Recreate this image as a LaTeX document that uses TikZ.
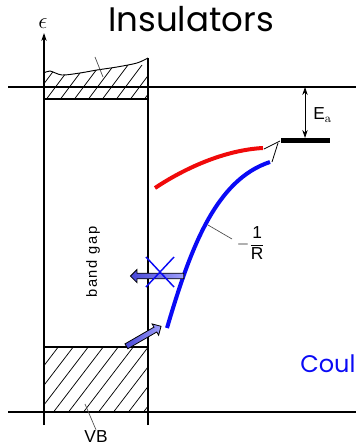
\documentclass[tikz,border=0pt]{standalone}
\usepackage{fontspec}
\setsansfont{Liberation Sans}
\newfontfamily\comicfont{Poppins}
\newfontfamily\widesans[LetterSpace=12]{Liberation Sans}
\usetikzlibrary{arrows.meta,shapes.arrows}
\definecolor{gapRed}{RGB}{240,10,10}
\definecolor{gapBlue}{RGB}{10,10,245}
\definecolor{arrowDark}{RGB}{70,70,215}
\definecolor{arrowLight}{RGB}{160,160,250}

\begin{document}
\begin{tikzpicture}[
  x=0.75pt,y=-0.75pt,
  frame/.style={line width=0.9pt},
  hatchline/.style={line width=0.55pt},
  leader/.style={line width=0.5pt,black!70},
  lbl/.style={font=\sffamily\fontsize{13}{13}\selectfont,inner sep=0pt},
  curve/.style={line width=3pt},
  fatarrow/.style={
    single arrow,
    draw=black,
    line width=0.6pt,
    left color=arrowDark,
    right color=arrowLight,
    inner sep=1.8pt,
    single arrow head extend=2.8pt
  },
  tip/.style={-{Stealth[length=6pt,width=4pt]}}
]
  \useasboundingbox (0,0) rectangle (356,445);

  % energy axis and band edges
  \draw[frame] (8,87) -- (356,87);
  \draw[frame] (8,412) -- (356,412);
  \draw[frame,tip] (44,425) -- (44,33);
  \draw[frame] (148,425) -- (148,58);
  \node[font=\fontsize{16}{16}\selectfont,anchor=base] (eps) at (43,29) {$\epsilon$};

  % conduction band (hatched)
  \begin{scope}
    \clip plot[smooth] coordinates {(44,73) (50,71) (62,75) (80,73) (97,70) (117,67) (137,63) (148,58)}
      -- (148,99) -- (44,99) -- cycle;
    \foreach \s in {14,28,...,154}
      \draw[hatchline] (\s,105) -- ++(30,-40);
  \end{scope}
  \draw[line width=0.7pt] plot[smooth] coordinates {(44,73) (50,71) (62,75) (80,73) (97,70) (117,67) (137,63) (148,58)};
  \draw[frame] (44,99) -- (148,99);
  \draw[leader] (95,57) -- (103,77);

  % valence band (hatched)
  \begin{scope}
    \clip (44,347) rectangle (148,412);
    \foreach \s in {-8,7,...,158}
      \draw[hatchline] (\s,414) -- ++(52,-68);
  \end{scope}
  \draw[frame] (44,347) -- (148,347);
  \node[lbl,anchor=base] (vb) at (96,442) {VB};
  \draw[leader] (85,404) -- (vb.north);

  \node[font=\widesans\fontsize{11}{11}\selectfont,rotate=90] (gap) at (93,262) {band gap};

  % acceptor level
  \coordinate (cbEdge) at (305,87);
  \coordinate (level) at (305,138);
  \draw[line width=3.5pt] (281,140.5) -- (330,140.5);
  \draw[line width=0.6pt,{Stealth[length=6pt,width=4pt]}-{Stealth[length=6pt,width=4pt]}] (cbEdge) -- (level);
  \node[lbl,anchor=base west] (ea) at (313,120) {E$_\mathrm{a}$};

  % Coulomb potential branches
  \draw[curve,gapRed] (155,188) .. controls (185,168) and (225,150) .. (263,148);
  \draw[curve,gapBlue] (167,328) .. controls (190,250) and (215,180) .. (270,162);
  \draw[line width=0.6pt] (264,149) -- (280,141);
  \draw[line width=0.6pt] (278,143) -- (272,162);
  \node[lbl] (invr) at (251,243) {$-\displaystyle\frac{\mathsf{1}}{\mathsf{R}}$};
  \draw[leader] (208,225) -- (232,239);

  % excitation arrows
  \node[fatarrow,minimum height=40pt,shape border rotate=180] (escape) at (158.5,276) {};
  \draw[gapBlue,line width=1.1pt] (146,257) -- (174,287);
  \draw[gapBlue,line width=1.1pt] (174,257) -- (146,287);
  \node[fatarrow,minimum height=30pt,rotate=30] (lift) at (142.5,337) {};

  \node[font=\comicfont\fontsize{25.5}{25.5}\selectfont,anchor=base] (title) at (191,32) {Insulators};
  \node[font=\comicfont\fontsize{18}{18}\selectfont,text=gapBlue,anchor=base west,inner sep=0pt] (coul) at (300,372) {Coul};
\end{tikzpicture}
\end{document}
